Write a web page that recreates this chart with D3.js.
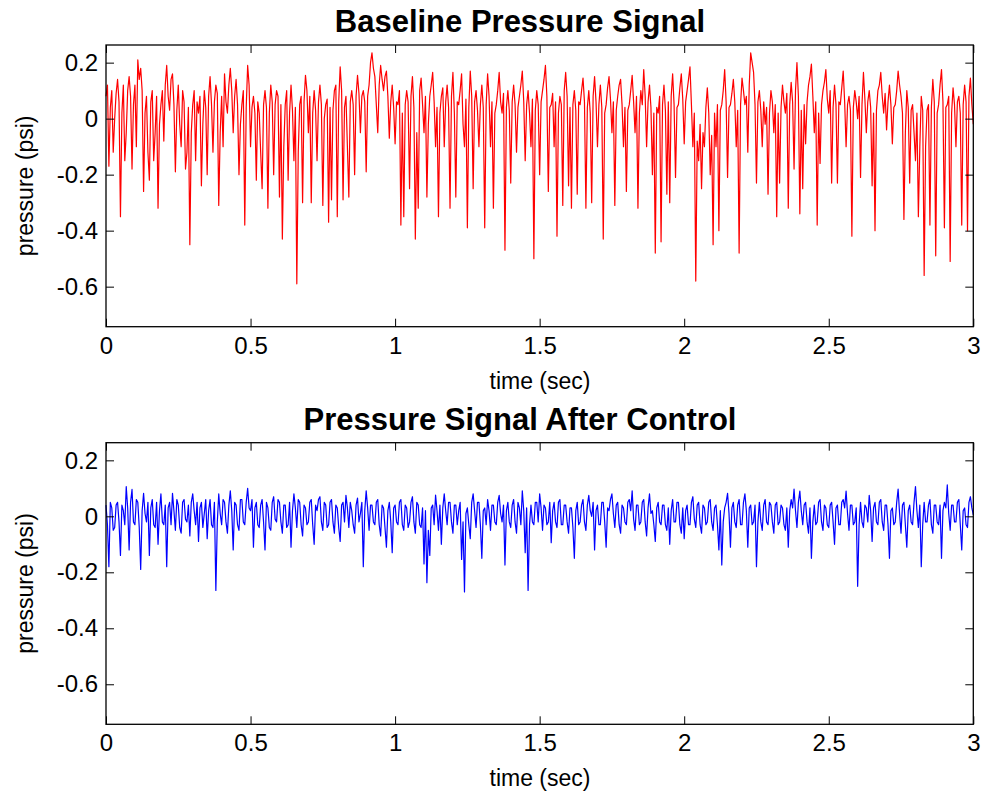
<!DOCTYPE html>
<html>
<head>
<meta charset="utf-8">
<script src="https://cdn.jsdelivr.net/npm/d3@7"></script>
<style>
  html, body { margin: 0; padding: 0; background: #fff; }
  svg { display: block; }
  text { font-family: "Liberation Sans", Arial, Helvetica, sans-serif; fill: #000; }
</style>
</head>
<body>
<svg id="chart" width="982" height="793"></svg>
<script>
// ---------------- DATA ----------------
const sampleStep = 0.005; // seconds between samples
const xTickValues = [0, 0.5, 1, 1.5, 2, 2.5, 3];
const xTickLabels = ["0", "0.5", "1", "1.5", "2", "2.5", "3"];
const yTickValues = [-0.6, -0.4, -0.2, 0, 0.2];
const yTickLabels = ["-0.6", "-0.4", "-0.2", "0", "0.2"];
const titles = ["Baseline Pressure Signal", "Pressure Signal After Control"];
const xLabel = "time (sec)";
const yLabel = "pressure (psi)";

const baselinePressure = [
  0.08, 0.12, -0.17, 0.04, 0.10, -0.12, 0.00, 0.09, 0.14, 0.06, -0.35, 0.02, 0.12, -0.15, -0.05, 0.10, 0.15, 0.08, -0.18, 0.05,
  0.12, -0.10, 0.21, 0.14, 0.18, 0.10, -0.26, 0.02, 0.08, -0.12, -0.22, 0.06, 0.10, -0.15, -0.05, 0.08, -0.32, -0.02, 0.05, 0.10,
  -0.08, 0.12, 0.19, 0.08, 0.03, 0.14, 0.16, 0.05, -0.19, 0.03, 0.12, -0.02, -0.10, 0.10, 0.06, -0.18, -0.12, 0.04, -0.45, -0.05,
  0.05, 0.10, -0.15, 0.06, 0.02, 0.08, -0.24, -0.02, 0.10, 0.04, -0.20, 0.08, 0.15, 0.05, -0.12, 0.06, 0.12, 0.09, -0.31, -0.05,
  0.08, -0.10, 0.16, 0.06, 0.02, 0.12, 0.18, 0.10, -0.05, 0.08, 0.14, 0.05, -0.20, -0.02, 0.05, 0.10, -0.38, 0.04, 0.19, 0.12,
  -0.10, 0.04, 0.08, 0.02, -0.22, 0.06, 0.02, -0.12, -0.25, 0.05, 0.10, 0.04, -0.32, 0.02, 0.12, 0.06, -0.20, 0.05, 0.10, 0.08,
  -0.28, 0.05, -0.43, -0.10, 0.05, 0.10, -0.22, 0.02, 0.12, 0.03, -0.15, 0.04, -0.59, -0.12, 0.05, 0.08, -0.30, 0.06, 0.155, 0.10,
  -0.05, 0.08, -0.30, 0.02, 0.10, 0.03, -0.15, 0.06, 0.12, 0.05, -0.31, 0.00, 0.05, 0.07, -0.37, 0.04, -0.29, 0.03, 0.10, 0.12,
  -0.35, 0.06, 0.185, 0.10, -0.29, 0.04, 0.08, -0.10, -0.28, 0.06, 0.10, 0.05, -0.20, 0.08, 0.155, 0.09, -0.05, 0.08, 0.10, 0.06,
  -0.19, 0.08, 0.12, 0.20, 0.235, 0.18, 0.15, 0.05, -0.05, 0.12, 0.19, 0.14, 0.10, 0.15, 0.17, 0.08, -0.07, 0.06, 0.12, 0.04,
  -0.09, 0.06, 0.05, 0.10, -0.38, 0.02, -0.35, 0.05, 0.10, 0.06, -0.25, 0.08, 0.15, 0.04, -0.43, -0.05, -0.32, 0.10, 0.145, 0.05,
  -0.05, 0.08, -0.28, -0.02, 0.08, 0.12, 0.165, 0.06, -0.10, 0.04, -0.35, 0.02, 0.08, 0.11, -0.10, 0.06, 0.12, 0.04, -0.32, 0.08,
  0.165, 0.02, -0.28, 0.06, 0.05, 0.10, 0.16, -0.02, -0.10, 0.07, -0.39, 0.04, 0.17, 0.08, -0.25, 0.06, 0.10, 0.03, -0.10, 0.05,
  0.12, 0.04, -0.39, 0.05, 0.16, 0.08, -0.10, 0.06, -0.32, 0.02, 0.05, 0.10, 0.165, 0.06, 0.02, 0.09, -0.47, 0.04, 0.10, 0.03,
  -0.23, 0.06, 0.12, 0.05, -0.12, 0.04, 0.08, 0.12, 0.17, 0.06, -0.15, 0.05, 0.10, 0.02, -0.10, 0.07, -0.50, 0.03, 0.10, 0.05,
  -0.20, 0.06, 0.10, 0.14, 0.19, 0.08, -0.26, 0.04, 0.05, 0.09, -0.10, 0.06, -0.42, 0.02, 0.08, 0.05, -0.31, 0.10, 0.165, 0.08,
  -0.24, 0.04, -0.32, 0.05, 0.10, 0.03, -0.27, 0.06, 0.05, 0.10, 0.145, 0.06, -0.32, 0.04, 0.10, 0.02, -0.30, 0.08, 0.15, 0.06,
  -0.10, 0.05, 0.12, 0.04, -0.43, 0.02, 0.05, 0.11, 0.15, 0.07, -0.05, 0.06, -0.31, 0.03, 0.08, 0.12, 0.14, 0.05, -0.10, 0.04,
  -0.26, 0.03, 0.05, 0.10, 0.155, 0.06, -0.05, 0.08, -0.32, 0.02, 0.10, 0.05, 0.175, 0.08, -0.10, 0.06, 0.12, 0.04, -0.20, 0.02,
  -0.48, 0.04, 0.02, 0.08, -0.44, 0.05, 0.12, 0.03, -0.27, 0.06, -0.30, 0.08, 0.16, 0.05, -0.21, 0.04, 0.05, 0.11, 0.16, 0.07,
  -0.09, 0.06, 0.10, 0.14, 0.185, 0.05, -0.10, 0.02, -0.58, -0.08, -0.15, -0.02, -0.25, -0.05, -0.10, 0.04, 0.11, 0.02, -0.20, -0.06,
  -0.45, 0.02, -0.10, 0.05, -0.40, 0.03, 0.05, 0.10, 0.175, 0.06, -0.21, 0.04, 0.05, 0.09, 0.14, 0.06, -0.10, 0.03, -0.48, 0.05,
  0.145, 0.10, 0.05, 0.08, -0.12, 0.12, 0.235, 0.20, 0.165, 0.05, -0.23, 0.06, 0.10, 0.03, -0.10, 0.06, -0.02, 0.04, -0.27, 0.02,
  0.10, 0.06, -0.05, 0.05, -0.35, 0.02, -0.23, 0.04, 0.12, 0.06, 0.02, 0.09, -0.32, 0.05, 0.13, 0.06, -0.18, 0.10, 0.20, 0.08,
  -0.34, 0.03, -0.25, 0.05, -0.09, 0.06, 0.12, 0.15, 0.195, 0.08, -0.05, 0.06, -0.38, 0.02, -0.16, 0.05, 0.10, 0.13, 0.175, 0.07,
  0.02, 0.10, -0.23, 0.04, 0.12, 0.05, -0.23, 0.06, 0.05, 0.11, 0.17, 0.06, -0.10, 0.05, 0.08, 0.03, -0.42, 0.04, 0.10, 0.06,
  0.00, 0.08, -0.21, 0.05, 0.165, 0.07, -0.05, 0.06, 0.10, 0.04, -0.24, 0.02, -0.40, 0.03, 0.10, 0.12, 0.165, 0.08, 0.02, 0.09,
  -0.04, 0.06, 0.12, 0.05, -0.09, 0.04, 0.05, 0.10, 0.17, 0.12, 0.08, 0.02, -0.36, -0.05, 0.10, 0.04, -0.23, 0.03, 0.05, -0.05,
  -0.15, 0.02, -0.35, -0.10, 0.08, 0.03, -0.56, -0.10, 0.03, 0.05, -0.38, 0.04, 0.14, 0.06, -0.49, 0.02, 0.05, 0.12, 0.175, 0.06,
  -0.39, 0.04, 0.05, 0.08, -0.51, 0.02, 0.11, 0.05, -0.10, 0.06, 0.08, 0.02, -0.38, 0.05, 0.12, 0.06, -0.40, 0.08, 0.145, 0.05,
  -0.02
];

const controlledPressure = [
  0.04, -0.03, -0.18, 0.05, 0.03, -0.05, -0.04, 0.04, 0.05, -0.02, -0.14, 0.04, 0.02, -0.03, 0.106, 0.03, -0.12, 0.05, 0.096, -0.02,
  -0.03, 0.06, 0.05, -0.04, -0.19, 0.02, 0.082, 0.01, -0.02, 0.05, -0.14, 0.03, 0.06, -0.03, -0.04, 0.05, -0.10, 0.02, 0.08, -0.02,
  -0.03, 0.04, -0.18, 0.03, 0.05, -0.03, 0.082, 0.02, -0.05, 0.06, 0.04, -0.04, -0.06, 0.05, 0.06, -0.01, -0.02, 0.04, -0.07, 0.05,
  0.08, 0.02, -0.03, 0.05, -0.09, 0.03, 0.05, -0.04, 0.01, 0.06, -0.08, 0.02, 0.06, -0.03, -0.04, 0.05, -0.265, -0.02, 0.08, 0.01,
  -0.03, 0.06, 0.05, -0.02, -0.06, 0.04, 0.091, 0.02, -0.12, 0.05, 0.04, -0.03, -0.05, 0.06, 0.06, -0.02, -0.03, 0.05, 0.10, 0.03,
  0.02, 0.06, -0.11, 0.03, 0.05, -0.03, -0.04, 0.04, 0.06, -0.02, -0.12, 0.05, 0.03, -0.04, -0.05, 0.05, 0.07, -0.01, -0.02, 0.06,
  0.05, -0.02, -0.06, 0.04, 0.04, -0.04, -0.03, 0.05, -0.11, 0.02, 0.08, 0.03, -0.04, 0.06, 0.05, -0.03, -0.07, 0.04, 0.03, -0.03,
  -0.02, 0.05, 0.06, -0.03, -0.10, 0.04, 0.02, 0.06, 0.07, -0.02, -0.05, 0.05, 0.04, -0.04, -0.03, 0.05, 0.06, -0.02, -0.06, 0.04,
  0.03, -0.04, -0.09, 0.04, 0.05, -0.02, 0.075, 0.03, -0.04, 0.05, 0.02, -0.03, -0.06, 0.04, 0.065, -0.02, 0.01, 0.05, -0.18, 0.02,
  0.091, 0.03, -0.05, 0.04, 0.04, -0.02, -0.03, 0.05, 0.06, -0.03, -0.07, 0.04, 0.03, -0.04, -0.11, 0.02, 0.05, -0.02, -0.13, 0.03,
  0.04, -0.02, -0.03, 0.05, 0.06, -0.03, -0.05, 0.04, 0.03, -0.04, -0.02, 0.05, 0.07, -0.02, -0.06, 0.05, 0.04, -0.03, -0.04, 0.03,
  -0.17, 0.02, -0.237, -0.05, -0.14, 0.03, 0.04, -0.03, 0.076, 0.02, -0.05, 0.04, -0.10, 0.03, 0.08, 0.02, -0.03, 0.05, 0.05, -0.02,
  -0.06, 0.04, 0.04, -0.03, 0.02, 0.05, -0.154, -0.02, -0.27, 0.01, 0.03, -0.03, -0.08, 0.05, 0.08, 0.02, -0.04, 0.05, 0.05, -0.03,
  -0.15, 0.02, 0.03, -0.03, 0.06, 0.02, -0.05, 0.04, 0.04, -0.02, -0.03, 0.05, 0.075, 0.01, -0.02, 0.04, -0.174, 0.02, 0.05, -0.02,
  -0.04, 0.04, 0.06, -0.02, -0.06, 0.05, 0.03, -0.03, 0.091, 0.02, -0.13, 0.03, -0.265, -0.03, 0.04, -0.02, -0.03, 0.05, 0.05, -0.02,
  0.08, 0.03, -0.05, 0.04, 0.03, -0.03, -0.02, 0.05, -0.094, 0.02, 0.05, -0.02, -0.04, 0.05, 0.06, -0.03, -0.03, 0.04, 0.04, -0.02,
  -0.06, 0.03, 0.03, -0.04, -0.15, 0.02, 0.05, -0.03, -0.02, 0.04, 0.06, -0.02, -0.05, 0.04, 0.075, 0.02, 0.00, 0.05, -0.12, 0.02,
  0.04, -0.03, -0.03, 0.05, 0.05, -0.02, -0.11, 0.03, 0.02, 0.06, 0.08, 0.01, -0.04, 0.04, 0.05, -0.03, -0.06, 0.04, 0.03, -0.02,
  -0.03, 0.05, 0.06, 0.02, 0.091, -0.01, -0.05, 0.04, 0.04, -0.03, -0.02, 0.05, 0.06, -0.02, -0.07, 0.03, 0.08, 0.01, 0.02, -0.03,
  -0.09, 0.03, 0.05, -0.02, -0.03, 0.04, 0.04, -0.03, -0.05, 0.03, -0.10, 0.02, 0.06, -0.02, -0.02, 0.05, 0.05, -0.03, -0.06, 0.03,
  -0.08, 0.02, 0.04, -0.03, -0.03, 0.05, 0.07, -0.01, -0.04, 0.04, 0.05, -0.03, -0.06, 0.04, 0.03, -0.03, -0.02, 0.05, 0.06, -0.02,
  -0.05, 0.03, 0.04, -0.03, -0.12, 0.02, -0.174, -0.02, 0.03, 0.05, 0.082, 0.01, -0.11, 0.03, 0.05, -0.02, -0.04, 0.04, 0.06, -0.03,
  -0.03, 0.05, 0.08, 0.02, -0.11, 0.03, 0.04, -0.03, -0.02, 0.04, -0.18, -0.02, 0.05, -0.02, -0.05, 0.04, 0.06, -0.02, -0.03, 0.05,
  0.04, -0.02, -0.06, 0.04, 0.05, -0.03, -0.02, 0.04, 0.03, -0.03, -0.05, 0.03, -0.11, 0.02, 0.06, 0.03, 0.097, 0.02, -0.04, 0.05,
  0.09, 0.02, -0.03, 0.04, 0.05, -0.02, -0.06, 0.03, -0.15, -0.02, 0.04, -0.03, -0.02, 0.05, 0.06, -0.02, -0.05, 0.04, 0.03, -0.03,
  -0.04, 0.04, 0.05, -0.02, -0.10, 0.03, 0.04, -0.03, -0.03, 0.05, 0.06, 0.03, 0.09, 0.01, -0.05, 0.04, 0.04, -0.03, -0.02, 0.03,
  -0.25, -0.03, 0.05, -0.02, -0.04, 0.04, 0.03, -0.02, 0.075, 0.02, -0.09, 0.03, 0.05, -0.02, -0.03, 0.05, 0.06, -0.02, -0.05, 0.04,
  0.04, -0.03, -0.15, 0.02, 0.03, -0.03, -0.02, 0.05, 0.097, 0.01, -0.06, 0.04, 0.05, -0.03, -0.11, 0.02, 0.04, -0.02, -0.03, 0.05,
  0.106, 0.02, -0.04, 0.04, -0.18, -0.03, 0.05, -0.02, -0.02, 0.04, 0.06, -0.03, -0.06, 0.04, 0.04, -0.02, -0.03, 0.04, -0.15, 0.02,
  0.05, 0.03, 0.112, 0.01, -0.05, 0.04, 0.04, -0.02, -0.02, 0.05, 0.06, -0.03, -0.12, 0.02, 0.03, -0.03, -0.04, 0.05, 0.07, 0.03,
  0.005
];

// ---------------- LAYOUT ----------------
const svg = d3.select("#chart");
const panels = [
  { top: 45, bottom: 326.7, title: titles[0], values: baselinePressure, color: "#ff0000" },
  { top: 442.7, bottom: 724.3, title: titles[1], values: controlledPressure, color: "#0000ff" }
];
const left = 106, right = 973.3;
const xDomain = [0, 3];
const yDomain = [-0.743, 0.263];
const tickLen = 8;

panels.forEach(p => {
  const x = d3.scaleLinear().domain(xDomain).range([left, right]);
  const y = d3.scaleLinear().domain(yDomain).range([p.bottom, p.top]);
  const g = svg.append("g");

  const line = d3.line()
    .x((d, i) => x(i * sampleStep))
    .y(d => y(d));
  g.append("path")
    .datum(p.values)
    .attr("d", line)
    .attr("fill", "none")
    .attr("stroke", p.color)
    .attr("stroke-width", 1.2)
    .attr("stroke-linejoin", "round");

  const xLab = d => xTickLabels[xTickValues.indexOf(d)];
  const yLab = d => yTickLabels[yTickValues.indexOf(d)];

  const axB = g.append("g").attr("transform", `translate(0,${p.bottom})`)
    .call(d3.axisBottom(x).tickValues(xTickValues).tickFormat(xLab).tickSizeInner(-tickLen).tickSizeOuter(0).tickPadding(10));
  const axT = g.append("g").attr("transform", `translate(0,${p.top})`)
    .call(d3.axisTop(x).tickValues(xTickValues).tickFormat("").tickSizeInner(-tickLen).tickSizeOuter(0));
  const axL = g.append("g").attr("transform", `translate(${left},0)`)
    .call(d3.axisLeft(y).tickValues(yTickValues).tickFormat(yLab).tickSizeInner(-tickLen).tickSizeOuter(0).tickPadding(8));
  const axR = g.append("g").attr("transform", `translate(${right},0)`)
    .call(d3.axisRight(y).tickValues(yTickValues).tickFormat("").tickSizeInner(-tickLen).tickSizeOuter(0));

  [axB, axT, axL, axR].forEach(a => {
    a.select(".domain").remove();
    a.selectAll(".tick line").attr("stroke", "#000").attr("stroke-width", 1);
    a.selectAll("text").attr("font-size", 24).attr("font-family", '"Liberation Sans", Arial, sans-serif').attr("fill", "#000");
  });
  axB.selectAll(".tick text").attr("dy", "0.71em");

  g.append("rect")
    .attr("x", left).attr("y", p.top)
    .attr("width", right - left).attr("height", p.bottom - p.top)
    .attr("fill", "none").attr("stroke", "#000").attr("stroke-width", 1.3);

  g.append("text")
    .attr("x", 520).attr("y", p.top - 12.7)
    .attr("text-anchor", "middle")
    .attr("font-size", 31).attr("font-weight", "bold")
    .text(p.title);

  g.append("text")
    .attr("x", 540).attr("y", p.bottom + 62)
    .attr("text-anchor", "middle")
    .attr("font-size", 23)
    .text(xLabel);

  g.append("text")
    .attr("transform", `translate(33,${(p.top + p.bottom) / 2}) rotate(-90)`)
    .attr("text-anchor", "middle")
    .attr("font-size", 23)
    .text(yLabel);
});
</script>
</body>
</html>
